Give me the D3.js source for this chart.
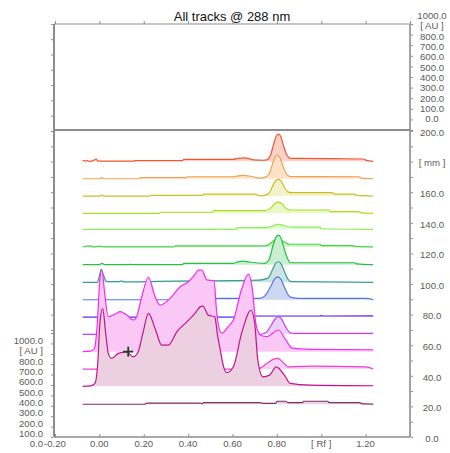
<!DOCTYPE html>
<html><head><meta charset="utf-8">
<script src="https://cdn.jsdelivr.net/npm/d3@7/dist/d3.min.js"></script>
<style>
body{margin:0;background:#fff;}
svg{display:block;font-family:"Liberation Sans",Arial,sans-serif;}
</style>
</head><body>
<svg id="chart" width="450" height="453"></svg>
<script>
// ---------------- data ----------------
const chartTitle = "All tracks @ 288 nm";
const rfTicks = [-0.2, 0, 0.2, 0.4, 0.6, 0.8, 1.0, 1.2, 1.4];
const rfTickLabels = ["-0.20", "0.00", "0.20", "0.40", "0.60", "0.80", "[ Rf ]", "1.20", ""];
const auTicks = [0, 100, 200, 300, 400, 500, 600, 700, 800, 900, 1000];
const auTickLabels = ["0.0", "100.0", "200.0", "300.0", "400.0", "500.0", "600.0", "700.0", "800.0", "[ AU ]", "1000.0"];
const mmTicks = d3.range(0, 201, 10);
const mmLabelValues = [0, 20, 40, 60, 80, 100, 120, 140, 160, 180, 200];
const mmTickLabels = ["0.0", "20.0", "40.0", "60.0", "80.0", "100.0", "120.0", "140.0", "160.0", "[ mm ]", "200.0"];
const leftMmTicks = d3.range(70, 271, 10);

// track position (mm) of each track, track 1 (bottom) .. track 15 (top)
const trackOffsetsMm = [21.4, 33.1, 44.4, 55.8, 67.1, 78.4, 89.7, 101.1, 112.6, 124.2, 135.7, 146.2, 157.5, 168.8, 180.2];

// densitograms: [Rf, AU]
const track1 = [[-0.075,0],[0.205,0],[0.212,10],[0.455,10],[0.462,4],[0.47,16],[0.725,16],[0.735,8],[0.795,8],[0.8,29],[0.84,29],[0.85,16],[0.915,16],[0.92,29],[1.03,29],[1.035,16],[1.175,16],[1.18,6],[1.234,2]];
const track2 = [[-0.075,0],[-0.04,4],[-0.02,28],[-0.008,200],[0.003,620],[0.015,750],[0.028,520],[0.04,317],[0.055,269],[0.085,317],[0.123,332],[0.153,284],[0.175,332],[0.196,509],[0.221,701],[0.251,557],[0.281,396],[0.311,396],[0.349,524],[0.394,620],[0.431,701],[0.454,764],[0.466,771],[0.491,685],[0.52,668],[0.532,500],[0.545,348],[0.56,188],[0.574,131],[0.604,188],[0.641,509],[0.683,732],[0.7,605],[0.714,252],[0.737,92],[0.767,108],[0.797,188],[0.834,108],[0.86,29],[0.95,12],[1.234,6]];
const track3 = [[-0.075,0],[0.6,0],[0.72,6],[0.755,55],[0.785,95],[0.805,103],[0.83,60],[0.85,22],[0.95,29],[1.2,22],[1.234,2]];
const track4 = [[-0.075,0],[-0.04,5],[-0.022,30],[-0.01,250],[0.002,690],[0.011,785],[0.024,560],[0.04,336],[0.078,369],[0.093,384],[0.123,352],[0.153,304],[0.168,336],[0.191,528],[0.221,715],[0.251,528],[0.274,448],[0.319,512],[0.364,624],[0.401,672],[0.43,740],[0.446,784],[0.462,785],[0.484,690],[0.517,680],[0.527,420],[0.537,250],[0.552,177],[0.58,240],[0.604,304],[0.64,592],[0.672,746],[0.69,592],[0.705,273],[0.725,160],[0.755,144],[0.807,208],[0.84,112],[0.87,33],[0.95,22],[1.234,18]];
const track5 = [[-0.075,0],[0.72,0],[0.75,15],[0.775,90],[0.795,155],[0.807,169],[0.82,150],[0.84,70],[0.86,15],[0.88,10],[1.234,10]];
const track6 = [[-0.075,0],[0.6,0],[0.7,10],[0.995,10],[1.0,16],[1.01,10],[1.234,12]];
const track7 = [[-0.075,0],[0.52,0],[0.53,13],[0.72,13],[0.745,35],[0.77,120],[0.79,200],[0.805,221],[0.82,190],[0.838,100],[0.855,35],[0.87,20],[0.9,13],[1.2,13],[1.234,2]];
const track8 = [[-0.075,0],[-0.01,0],[0.0,60],[0.008,125],[0.02,60],[0.033,6],[0.09,6],[0.1,13],[0.11,4],[0.262,10],[0.72,22],[0.76,40],[0.78,120],[0.795,185],[0.807,198],[0.82,175],[0.835,100],[0.85,30],[0.865,6],[1.234,0]];
const track9 = [[-0.075,0],[0.0,0],[0.011,13],[0.025,0],[0.13,0],[0.138,6],[0.146,0],[0.375,0],[0.38,13],[0.6,13],[0.628,30],[0.649,35],[0.675,26],[0.745,13],[0.765,50],[0.782,180],[0.796,265],[0.807,285],[0.818,260],[0.832,160],[0.848,60],[0.862,19],[1.15,19],[1.16,9],[1.234,0]];
const track10 = [[-0.075,0],[-0.04,10],[-0.03,0],[0.005,8],[0.015,0],[0.335,0],[0.341,10],[0.75,10],[0.78,50],[0.805,80],[0.83,50],[0.86,26],[0.995,26],[1.0,13],[1.145,13],[1.15,6],[1.234,0]];
const track11 = [[-0.075,0],[0.54,0],[0.545,6],[0.55,0],[0.615,0],[0.62,16],[0.75,16],[0.78,32],[0.8,46],[0.81,48],[0.83,35],[0.87,22],[0.995,22],[1.0,6],[1.234,0]];
const track12 = [[-0.075,0],[0.27,0],[0.275,10],[0.51,10],[0.515,26],[0.745,26],[0.77,45],[0.787,85],[0.8,105],[0.81,108],[0.824,90],[0.84,50],[0.86,32],[1.035,32],[1.04,16],[1.17,16],[1.18,4],[1.234,0]];
const track13 = [[-0.075,0],[0.0,0],[0.011,10],[0.02,0],[0.225,0],[0.23,6],[0.465,6],[0.47,19],[0.7,19],[0.725,2],[0.75,8],[0.767,35],[0.782,100],[0.795,150],[0.807,160],[0.82,140],[0.834,80],[0.85,40],[0.865,32],[1.05,32],[1.06,19],[1.15,19],[1.16,6],[1.234,0]];
const track14 = [[-0.075,0],[0.0,0],[0.011,12],[0.02,0],[0.18,0],[0.185,10],[0.39,10],[0.395,19],[0.6,19],[0.625,28],[0.649,32],[0.675,26],[0.7,15],[0.725,5],[0.75,18],[0.765,45],[0.78,140],[0.792,210],[0.802,227],[0.813,205],[0.826,130],[0.842,50],[0.86,20],[1.17,19],[1.18,6],[1.234,0]];
const track15 = [[-0.075,0],[-0.068,10],[-0.062,0],[-0.055,8],[-0.048,0],[-0.03,4],[-0.015,22],[-0.005,2],[0.155,2],[0.162,6],[0.374,6],[0.38,19],[0.6,19],[0.625,28],[0.649,32],[0.67,28],[0.695,14],[0.74,10],[0.755,14],[0.77,50],[0.785,160],[0.797,240],[0.807,262],[0.818,235],[0.83,150],[0.845,60],[0.862,28],[1.19,22],[1.205,6],[1.234,0]];
const tracks = [track1, track2, track3, track4, track5, track6, track7, track8, track9, track10, track11, track12, track13, track14, track15];

const lineColors = ["#7e2e62","#c4128e","#f040cc","#f22cf0","#c23cf0","#5a2cf0","#5576e0","#3a9a98","#22c040","#3cd83a","#8cee52","#a8e020","#c8c022","#f2a052","#f25434"];
const fillColors = ["#e6d4de","#ecd0e2","#f8d2f0","#fbc8f6","#ead0fa","#dcd4fc","#cfd6f2","#c9e4e2","#c8efd0","#d2f6cc","#e2fcd4","#eaf8c6","#f4f2c8","#fde2c8","#fcd2c8"];

// cursor mark
const cursorRf = 0.13, cursorTrack = 3;

// ---------------- layout ----------------
const svg = d3.select("#chart");
const L = 54, R = 410, T = 24, MID = 130, B = 437;
const x = d3.scaleLinear().domain([-0.2, 1.4]).range([55, R]);
const yMm = d3.scaleLinear().domain([0, 200]).range([B, 131]);
const auPx = d3.scaleLinear().domain([0, 1000]).range([0, 104]);
const yAuLeft = d3.scaleLinear().domain([0, 1000]).range([B, B - 104]);
const yAuTop = d3.scaleLinear().domain([0, 1000]).range([MID, T]);
const labAuLeft = d3.scaleLinear().domain([0, 1000]).range([444, 340.7]);
const labAuTop = d3.scaleLinear().domain([0, 1000]).range([119, 15.7]);

const axisCol = "#8c8c8c", labCol = "#5a5a5a", fs = "9.6px";

// title
svg.append("text").attr("x", 232).attr("y", 21).attr("text-anchor", "middle")
  .attr("font-size", "13px").attr("fill", "#111").text(chartTitle);

// ---------------- tracks ----------------
const trackLayer = svg.append("g");
for (let i = tracks.length - 1; i >= 0; i--) {
  const base = yMm(trackOffsetsMm[i]);
  const area = d3.area().x(d => x(d[0])).y0(base).y1(d => base - auPx(d[1])).curve(d3.curveMonotoneX);
  const line = d3.line().x(d => x(d[0])).y(d => base - auPx(d[1])).curve(d3.curveMonotoneX);
  trackLayer.append("path").datum(tracks[i]).attr("d", area).attr("fill", fillColors[i]).attr("stroke", "none");
  trackLayer.append("path").datum(tracks[i]).attr("d", line).attr("fill", "none")
    .attr("stroke", lineColors[i]).attr("stroke-width", 1.2);
}

// cursor cross
const cx = x(cursorRf), cy = yMm(trackOffsetsMm[cursorTrack]);
const cross = svg.append("g").attr("stroke", "#1f3d22").attr("stroke-width", 1.8);
cross.append("line").attr("x1", cx - 5).attr("x2", cx + 5).attr("y1", cy).attr("y2", cy);
cross.append("line").attr("x1", cx).attr("x2", cx).attr("y1", cy - 5).attr("y2", cy + 5);

// ---------------- frame & axes ----------------
const frame = svg.append("g").attr("stroke", axisCol).attr("fill", "none");
frame.append("line").attr("x1", L).attr("x2", R).attr("y1", T).attr("y2", T).attr("stroke-width", 1.2);
frame.append("line").attr("x1", L).attr("x2", R).attr("y1", MID).attr("y2", MID).attr("stroke", "#666").attr("stroke-width", 1.4);
frame.append("line").attr("x1", L).attr("x2", R).attr("y1", B).attr("y2", B).attr("stroke-width", 1.4);
frame.append("line").attr("x1", L).attr("x2", L).attr("y1", T).attr("y2", B).attr("stroke-width", 2);
frame.append("line").attr("x1", R).attr("x2", R).attr("y1", T).attr("y2", B).attr("stroke-width", 1.6);

function styleAxis(g) {
  g.select(".domain").remove();
  g.selectAll(".tick line").attr("stroke", axisCol);
  g.selectAll(".tick text").remove();
}
svg.append("g").attr("transform", `translate(0,${T})`)
  .call(d3.axisTop(x).tickValues(rfTicks).tickSize(3)).call(styleAxis);
svg.append("g").attr("transform", `translate(0,${B})`)
  .call(d3.axisBottom(x).tickValues(rfTicks).tickSize(-3)).call(styleAxis);
svg.append("g").attr("transform", `translate(${L - 1},0)`)
  .call(d3.axisLeft(yAuLeft).tickValues(auTicks).tickSize(2)).call(styleAxis);
const yMmExt = d3.scaleLinear().domain([0, 270]).range([B, B - 270 * (306 / 200)]);
svg.append("g").attr("transform", `translate(${L - 1},0)`)
  .call(d3.axisLeft(yMmExt).tickValues(leftMmTicks).tickSize(2)).call(styleAxis);
svg.append("g").attr("transform", `translate(${R + 1},0)`)
  .call(d3.axisRight(yAuTop).tickValues(auTicks).tickSize(2)).call(styleAxis);
svg.append("g").attr("transform", `translate(${R + 1},0)`)
  .call(d3.axisRight(yMm).tickValues(mmTicks).tickSize(2)).call(styleAxis);

// labels
const labels = svg.append("g").attr("font-size", fs).attr("fill", labCol);
labels.selectAll(".bx").data(rfTicks).join("text")
  .attr("x", d => x(d)).attr("y", 447).attr("text-anchor", "middle")
  .text((d, i) => rfTickLabels[i]);
labels.selectAll(".la").data(auTicks).join("text")
  .attr("x", 43).attr("y", d => labAuLeft(d)).attr("dy", "0.35em").attr("text-anchor", "end")
  .text((d, i) => auTickLabels[i]);
labels.selectAll(".ra").data(auTicks).join("text")
  .attr("x", 432).attr("y", d => labAuTop(d)).attr("dy", "0.35em").attr("text-anchor", "middle")
  .text((d, i) => auTickLabels[i]);
labels.selectAll(".rm").data(mmLabelValues).join("text")
  .attr("x", 432).attr("y", d => yMm(d) + 1.5).attr("dy", "0.35em").attr("text-anchor", "middle")
  .text((d, i) => mmTickLabels[i]);
</script>
</body></html>
